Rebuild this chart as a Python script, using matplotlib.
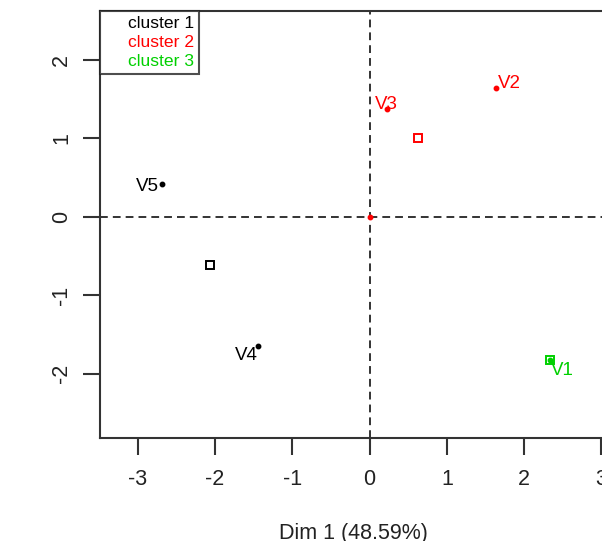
import matplotlib
matplotlib.use("Agg")
import matplotlib.pyplot as plt
from matplotlib.lines import Line2D

plt.rcParams['font.family'] = ['Liberation Sans', 'DejaVu Sans']

# Data
var_names = ["V1", "V2", "V3", "V4", "V5", ""]
var_x = [2.34, 1.64, 0.22, -1.44, -2.69, 0.0]
var_y = [-1.82, 1.64, 1.37, -1.65, 0.42, 0.0]
var_cluster = [3, 2, 2, 1, 1, 2]
cluster_names = ["cluster 1", "cluster 2", "cluster 3"]
cluster_colors = ["black", "#FF0000", "#00D000"]
xticks = [-3, -2, -1, 0, 1, 2, 3]
yticks = [-2, -1, 0, 1, 2]
xlabel = "Dim 1 (48.59%)"

# label offsets (points) and alignment
label_offsets = {"V1": (0.5, -8, "left"), "V2": (1.5, 3.5, "left"), "V3": (0, 3.5, "center"),
                 "V4": (-0.5, -7, "right"), "V5": (-2, -2, "right")}

W, H = 602, 541
fig = plt.figure(figsize=(W / 100, H / 100), dpi=100)
ax_l, ax_r, ax_b, ax_t = 100, 606, 438, 11
ax = fig.add_axes([ax_l / W, (H - ax_b) / H, (ax_r - ax_l) / W, (ax_b - ax_t) / H])
ax.set_xlim(-3.49, 3.06)
ax.set_ylim(-2.82, 2.62)

ax.axhline(0, color="#333333", lw=1.4, ls=(0, (4, 2.6)), zorder=1)
ax.axvline(0, color="#333333", lw=1.4, ls=(0, (4, 2.6)), zorder=1)

# points
for name, x, y, c in zip(var_names, var_x, var_y, var_cluster):
    col = cluster_colors[c - 1]
    ax.plot(x, y, 'o', ms=3.2, color=col, mec=col, zorder=3)
    if name:
        dx, dy, ha = label_offsets[name]
        ax.annotate(name, (x, y), xytext=(dx, dy), textcoords="offset points",
                    ha=ha, va="center", color=col, fontsize=13.5)

# cluster centers
for k in range(1, 4):
    xs = [x for x, c in zip(var_x, var_cluster) if c == k]
    ys = [y for y, c in zip(var_y, var_cluster) if c == k]
    cx, cy = sum(xs) / len(xs), sum(ys) / len(ys)
    ax.plot(cx, cy, 's', ms=6, mfc="none", mec=cluster_colors[k - 1], mew=1.4, zorder=2)

for s in ["left", "bottom", "top"]:
    ax.spines[s].set_color("#333333")
    ax.spines[s].set_linewidth(1.5)
ax.spines["right"].set_visible(False)

ax.set_xticks(xticks)
ax.set_yticks(yticks)
ax.set_xticklabels([str(t) for t in xticks])
ax.set_yticklabels([str(t) for t in yticks], rotation=90, va="center")
ax.tick_params(axis="both", direction="out", length=12, width=1.5, color="#333333",
               labelsize=15.5, labelcolor="#222222", pad=10)
ax.tick_params(axis="y", pad=8)
ax.set_xlabel(xlabel, fontsize=15.5, color="#222222", labelpad=24)

handles = [Line2D([], [], ls="none") for _ in cluster_names]
leg = ax.legend(handles, cluster_names, loc="upper left", borderaxespad=0,
                fontsize=12.6, frameon=True, fancybox=False, handlelength=0.8,
                handletextpad=0.5, borderpad=0.3, labelspacing=0.2,
                labelcolor=cluster_colors)
leg.get_frame().set_edgecolor("#222222")
leg.get_frame().set_linewidth(1.5)

fig.savefig("out.png", dpi=100)
